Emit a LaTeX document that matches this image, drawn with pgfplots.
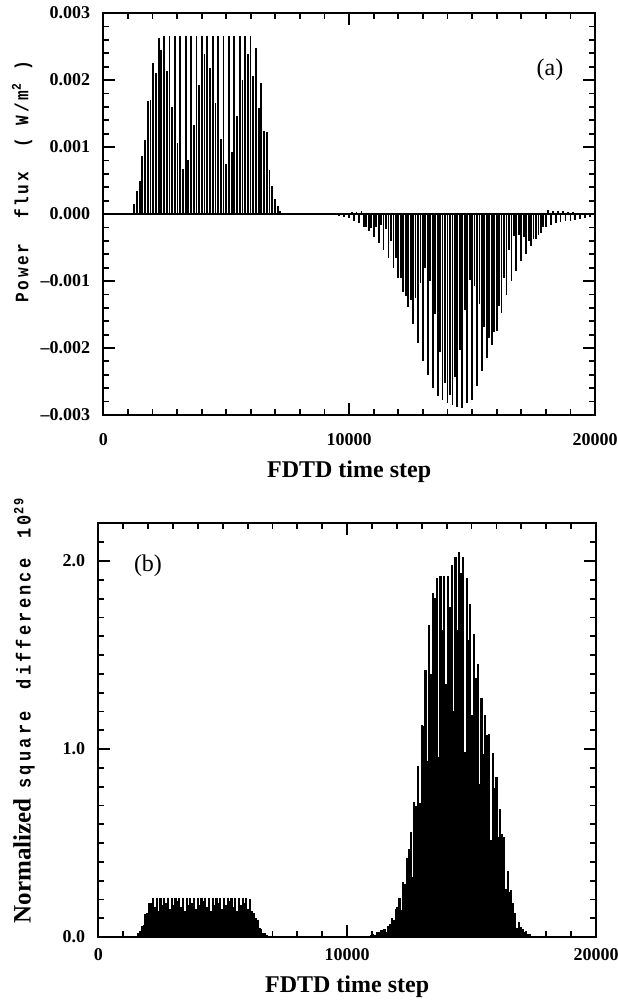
\documentclass[border=0pt]{standalone}
\usepackage{fontspec}
\setmainfont{Liberation Serif}
\newfontfamily\labmono[FakeStretch=0.85,LetterSpace=14]{Liberation Mono}
\newfontfamily\labmonob[FakeStretch=0.85,LetterSpace=16]{Liberation Mono}
\usepackage{pgfplots}
\usepackage{pgfplotstable}
\pgfplotsset{compat=1.18}

% power flux peaks (incident pulse, then reflected pulse)
\pgfplotstableread{
x y
1150 0.00002
1260 0.00015
1370 0.00035
1480 0.0005
1590 0.00087
1700 0.0011
1810 0.00169
1920 0.0017
2030 0.00226
2140 0.0021
2250 0.00262
2360 0.00245
2470 0.00266
2580 0.00213
2690 0.00266
2800 0.0016
2910 0.00266
3020 0.00106
3130 0.00266
3240 0.00067
3350 0.00266
3460 0.0008
3570 0.00266
3680 0.00133
3790 0.00266
3900 0.00192
4010 0.00266
4120 0.00239
4230 0.00266
4340 0.00218
4450 0.00266
4560 0.00165
4670 0.00266
4780 0.00112
4890 0.00266
5000 0.00074
5110 0.00266
5220 0.00093
5330 0.00266
5440 0.00146
5550 0.00266
5660 0.002
5770 0.00266
5880 0.00239
5990 0.00266
6100 0.00206
6210 0.00248
6320 0.00158
6430 0.00195
6540 0.00124
6650 0.00123
6760 0.00065
6870 0.00042
6980 0.00022
7090 0.00012
7200 0.00004
7310 0.00001
9500 0.00001
9600 -0.00003
9700 0.00001
9800 -0.00004
9900 0.00002
10000 -0.00006
10100 0.00003
10200 -0.0001
10300 0.00003
10400 -0.00013
10500 0.00004
10600 -0.00019
10700 -0.0002
10800 -0.00026
10900 -0.00021
11000 -0.00034
11100 -0.0002
11200 -0.00044
11300 -0.00017
11400 -0.00053
11500 -0.00023
11600 -0.00065
11700 -0.0004
11800 -0.0008
11900 -0.00066
12000 -0.00095
12100 -0.00095
12200 -0.00117
12300 -0.00122
12400 -0.00139
12500 -0.00128
12600 -0.00164
12700 -0.00125
12800 -0.00192
12900 -0.00103
13000 -0.0022
13100 -0.00081
13200 -0.0024
13300 -0.001
13400 -0.0026
13500 -0.00149
13600 -0.00272
13700 -0.00206
13800 -0.00277
13900 -0.00252
14000 -0.00282
14100 -0.0027
14200 -0.00285
14300 -0.00244
14400 -0.00288
14500 -0.00203
14600 -0.0029
14700 -0.00143
14800 -0.00282
14900 -0.00098
15000 -0.00277
15100 -0.00107
15200 -0.00256
15300 -0.00135
15400 -0.00235
15500 -0.00169
15600 -0.00215
15700 -0.00185
15800 -0.00195
15900 -0.00176
16000 -0.00175
16100 -0.00138
16200 -0.00148
16300 -0.00095
16400 -0.00121
16500 -0.00054
16600 -0.001
16700 -0.00033
16800 -0.00085
16900 -0.00031
17000 -0.0007
17100 -0.00035
17200 -0.00059
17300 -0.0004
17400 -0.00048
17500 -0.00038
17600 -0.00038
17700 -0.00031
17800 -0.00029
17900 -0.0002
18000 -0.0002
18100 0.00006
18200 -0.00017
18300 0.00005
18400 -0.00014
18500 0.00004
18600 -0.00012
18700 0.00004
18800 -0.00011
18900 0.00003
19000 -0.0001
19100 0.00003
19200 -0.00009
19300 0.00002
19400 -0.00008
19500 0.00002
19600 -0.00006
19700 0.00002
19800 -0.00005
19900 0.00001
20000 -0.00004
}\fluxtab

% normalized square difference peaks
\pgfplotstableread{
x y
1600 0.02
1675 0.034
1750 0.06
1825 0.063
1900 0.12
1975 0.128
2050 0.18
2125 0.18
2200 0.21
2275 0.158
2350 0.21
2425 0.137
2500 0.21
2575 0.168
2650 0.21
2725 0.179
2800 0.21
2875 0.147
2950 0.21
3025 0.168
3100 0.21
3175 0.189
3250 0.21
3325 0.158
3400 0.21
3475 0.137
3550 0.21
3625 0.168
3700 0.21
3775 0.179
3850 0.21
3925 0.147
4000 0.21
4075 0.168
4150 0.21
4225 0.189
4300 0.21
4375 0.158
4450 0.21
4525 0.137
4600 0.21
4675 0.168
4750 0.21
4825 0.179
4900 0.21
4975 0.147
5050 0.21
5125 0.168
5200 0.21
5275 0.189
5350 0.21
5425 0.158
5500 0.21
5575 0.137
5650 0.21
5725 0.168
5800 0.21
5875 0.179
5950 0.21
6025 0.147
6100 0.2
6175 0.136
6250 0.13
6325 0.099
6400 0.09
6475 0.049
6550 0.045
6625 0.02
6700 0.02
6775 0.01
6850 0.008
6925 0.003
10900 0.005
10975 0.009
11050 0.015
11125 0.012
11200 0.025
11275 0.024
11350 0.035
11425 0.038
11500 0.045
11575 0.025
11650 0.057
11725 0.068
11800 0.1
11875 0.088
11950 0.15
12025 0.162
12100 0.21
12175 0.144
12250 0.29
12325 0.28
12400 0.42
12475 0.466
12550 0.56
12625 0.32
12700 0.72
12775 0.697
12850 0.91
12925 0.714
13000 1.13
13075 1.125
13150 1.42
13225 0.936
13300 1.66
13375 1.4
13450 1.83
13525 1.805
13600 1.91
13675 0.96
13750 1.92
13825 1.632
13900 1.92
13975 1.344
14050 1.92
14125 1.755
14200 1.98
14275 1.2
14350 2.02
14425 1.632
14500 2.05
14575 1.938
14650 2.02
14725 0.985
14800 1.91
14875 1.581
14950 1.77
15025 1.183
15100 1.61
15175 1.377
15250 1.45
15325 0.816
15400 1.27
15475 0.976
15550 1.18
15625 1.074
15700 1.08
15775 0.515
15850 0.98
15925 0.79
16000 0.85
16075 0.532
16150 0.68
16225 0.549
16300 0.53
16375 0.258
16450 0.35
16525 0.24
16600 0.25
16675 0.18
16750 0.13
16825 0.05
16900 0.08
16975 0.051
17050 0.045
17125 0.025
17200 0.03
17275 0.018
17350 0.015
17425 0.006
17500 0.005
}\difftab

\pgfplotsset{
  fdtd/.style={
    scale only axis,
    xmin=0, xmax=20000,
    xtick={0,10000,20000},
    xticklabels={0,10000,20000},
    minor x tick num=9,
    tick align=inside,
    tick pos=both,
    major tick length=6pt,
    minor tick length=3pt,
    axis line style={line width=1pt},
    every tick/.style={black, line width=0.9pt},
    tick label style={font=\fontsize{9}{10}\selectfont\bfseries},
    yticklabel style={xshift=-3pt},
    scaled ticks=false,
    xlabel={FDTD time step},
    xlabel style={font=\fontsize{12}{14}\selectfont\bfseries, inner sep=0pt,
      at={(axis description cs:0.5,0)}, anchor=north},
  },
}

\begin{document}
\begin{tikzpicture}
\useasboundingbox (0,0) rectangle (308.5pt,-501pt);

\begin{axis}[fdtd,
  at={(51.65pt,-6.5pt)}, anchor=north west,
  width=245.85pt, height=201pt,
  ymin=-0.003, ymax=0.003,
  ytick={-0.003,-0.002,-0.001,0,0.001,0.002,0.003},
  yticklabels={--0.003,--0.002,--0.001,0.000,0.001,0.002,0.003},
  minor y tick num=4,
  xticklabel style={yshift=-5.5pt},
  xlabel style={yshift=-22.5pt},
  ylabel={\labmono\bfseries Power~~flux~~(~W/m\textsuperscript{2}~)},
  ylabel style={font=\fontsize{9.5}{11}\selectfont, inner sep=0pt,
    at={(axis description cs:-0.165,0.58)}, anchor=center},
]
\addplot[black, line width=0.7pt] coordinates {(0,0) (20000,0)};
\addplot[ycomb, black, line width=0.9pt] table[x=x, y=y] {\fluxtab};
\node at (axis cs:18170,0.00215) {\fontsize{12}{14}\selectfont (a)};
\end{axis}

\begin{axis}[fdtd,
  at={(49.15pt,-261.7pt)}, anchor=north west,
  width=248.85pt, height=206.8pt,
  ymin=0, ymax=2.2,
  ytick={0,1,2},
  yticklabels={0.0,1.0,2.0},
  minor ytick={0.1,0.2,0.3,0.4,0.5,0.6,0.7,0.8,0.9,1.1,1.2,1.3,1.4,1.5,1.6,1.7,1.8,1.9,2.1},
  xticklabel style={yshift=-2pt},
  xlabel style={yshift=-19pt},
  ylabel={{\fontsize{12.5}{14}\selectfont\bfseries Normalized}\hspace{5pt}{\labmonob\bfseries square\hspace{11pt}difference\hspace{10pt}10\textsuperscript{29}}},
  ylabel style={font=\fontsize{10}{11}\selectfont, inner sep=0pt,
    at={(axis description cs:-0.149,0.548)}, anchor=center},
]
\addplot[ycomb, black, line width=1.1pt] table[x=x, y=y] {\difftab};
\node at (axis cs:1997,1.973) {\fontsize{12}{14}\selectfont (b)};
\end{axis}
\end{tikzpicture}
\end{document}
